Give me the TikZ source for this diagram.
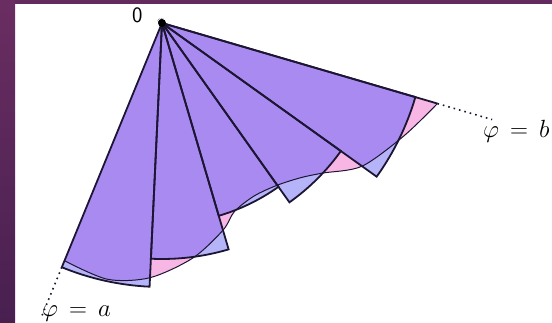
\documentclass[tikz,border=0pt]{standalone}
\usepackage{amsmath}
\usetikzlibrary{positioning}

\definecolor{slidepurple}{RGB}{106,45,98}
\definecolor{slidedark}{RGB}{72,32,80}
\definecolor{overlap}{RGB}{168,138,240}
\definecolor{curveonly}{RGB}{248,182,228}
\definecolor{sectoronly}{RGB}{182,180,248}
\definecolor{edge}{RGB}{28,22,52}

\tikzset{
  sector/.style={draw=edge, line width=1.8pt, line join=miter},
  polar curve/.style={draw=edge, line width=1pt},
  limit/.style={draw=edge, line width=1.6pt, dash pattern=on 1.6pt off 4pt},
  bound label/.style={inner sep=0pt, anchor=base west, font=\fontsize{32}{36}\selectfont},
}
% r = f(phi) from phi = a to phi = b, centred on the pole
\newcommand{\curvepath}{-- plot[smooth] coordinates {(-112.3:257) (-102:262) (-92.7:255) (-82.5:237)
    (-73.6:216) (-69:202) (-62:196) (-54.6:199) (-48:208) (-43:220) (-35.6:246) (-25:267) (-16.3:287)}}
\newcommand{\sectorlist}{-112.3/-92.7/264, -92.7/-73.6/236, -73.6/-54.6/201, -54.6/-35.6/220, -35.6/-16.3/264}

\begin{document}
\begin{tikzpicture}[x=1pt, y=1pt]
  \useasboundingbox (0,0) rectangle (552,322);
  % slide frame
  \shade[top color=slidepurple, bottom color=slidedark] (0,0) rectangle (15,322);
  \fill[slidepurple!80!slidedark] (15,318) rectangle (552,322);
  \begin{scope}[shift={(162,299)}]
    \coordinate (O) at (0,0);
    % region under the curve and the sectors
    \fill[curveonly] (O) \curvepath -- cycle;
    \foreach \a/\b/\r in \sectorlist
      \fill[sectoronly] (O) -- (\a:\r) arc[start angle=\a, end angle=\b, radius=\r] -- cycle;
    \begin{scope}
      \clip (O) \curvepath -- cycle;
      \foreach \a/\b/\r in \sectorlist
        \fill[overlap] (O) -- (\a:\r) arc[start angle=\a, end angle=\b, radius=\r] -- cycle;
    \end{scope}
    % outlines
    \draw[polar curve] (-112.3:257) \curvepath;
    \foreach \a/\b/\r in \sectorlist
      \draw[sector] (O) -- (\a:\r) arc[start angle=\a, end angle=\b, radius=\r] -- cycle;
    % rays phi = a and phi = b
    \coordinate (a start) at (-112.3:264);
    \coordinate (b start) at (-16.3:287);
    \coordinate (a end) at (-112.3:320);
    \coordinate (b end) at (-16.3:344);
    \draw[sector] (O) -- (b start);
    \draw[limit] (a start) -- (a end);
    \draw[limit] (b start) -- (b end);
    \fill[black] (O) circle (4);
  \end{scope}
  \node[bound label, font=\fontsize{22}{26}\selectfont\sffamily] (pole) at (132,299) {0};
  \node[bound label] (phi a) at (42,6) {$\varphi \mkern3mu=\mkern3mu a$};
  \node[bound label] (phi b) at (483,185) {$\varphi \mkern3mu=\mkern3mu b$};
\end{tikzpicture}
\end{document}
